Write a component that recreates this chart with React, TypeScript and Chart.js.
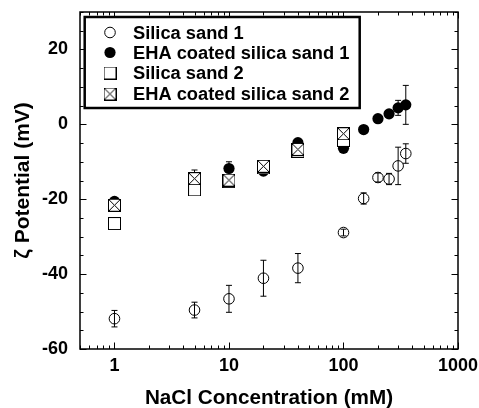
import { useEffect, useRef } from "react";
import { Chart, registerables } from "chart.js";

Chart.register(...registerables);

// NaCl concentrations (mM) and zeta potentials (mV) with error bars
const concentrations1 = [1, 5, 10, 20, 40, 100, 150, 200, 250, 300, 350];
const silicaSand1 = [-51.9, -49.6, -46.6, -41.1, -38.4, -28.9, -19.8, -14.2, -14.6, -11.1, -7.8];
const silicaSand1Err = [2.2, 2.1, 3.6, 4.8, 3.9, 0.9, 1.5, 1.2, 1.5, 5.0, 2.6];
const ehaSand1 = [-20.6, -14.8, -11.8, -12.5, -4.9, -6.4, -1.4, 1.5, 2.8, 4.4, 5.2];
const ehaSand1Err = [1.0, 1.0, 1.8, 1.0, 0.8, 0.5, 0.5, 0.5, 0.5, 2.0, 5.2];
const concentrations2 = [1, 5, 10, 20, 40, 100];
const silicaSand2 = [-26.5, -17.5, -15.3, -11.6, -7.2, -4.3];
const silicaSand2Err = [0.8, 0.8, 0.8, 0.8, 0.8, 0.8];
const ehaSand2 = [-21.6, -14.5, -14.9, -11.2, -6.7, -2.5];
const ehaSand2Err = [1.0, 2.3, 1.0, 1.0, 1.0, 0.8];

const seriesLabels = [
  "Silica sand 1",
  "EHA coated silica sand 1",
  "Silica sand 2",
  "EHA coated silica sand 2",
];
const xTickValues = [1, 10, 100, 1000];
const yTickValues = [-60, -40, -20, 0, 20];
const xMin = 0.5;
const xMax = 1000;
const yMin = -60;
const yMax = 30;

const FONT_FAMILY = "'Liberation Sans', Arial, sans-serif";
const CIRCLE_R = 5.3;

function makeSquare(crossed: boolean): HTMLCanvasElement {
  const c = document.createElement("canvas");
  c.width = 13;
  c.height = 13;
  const ctx = c.getContext("2d")!;
  ctx.fillStyle = "#fff";
  ctx.fillRect(0.5, 0.5, 12, 12);
  ctx.strokeStyle = "#000";
  ctx.lineWidth = 1;
  ctx.strokeRect(0.5, 0.5, 12, 12);
  if (crossed) {
    ctx.beginPath();
    ctx.moveTo(0.5, 0.5);
    ctx.lineTo(12.5, 12.5);
    ctx.moveTo(12.5, 0.5);
    ctx.lineTo(0.5, 12.5);
    ctx.stroke();
  }
  return c;
}

const toPoints = (xs: number[], ys: number[]) => xs.map((x, i) => ({ x, y: ys[i] }));

export default function App() {
  const canvasRef = useRef<HTMLCanvasElement | null>(null);

  useEffect(() => {
    const canvas = canvasRef.current;
    if (!canvas) return;
    const squareImg = makeSquare(false);
    const crossedImg = makeSquare(true);

    const decor = {
      id: "decor",
      beforeDatasetsDraw(chart: any) {
        const { ctx } = chart;
        const xs = chart.scales.x;
        const ys = chart.scales.y;
        ctx.save();
        ctx.strokeStyle = "#000";
        ctx.lineWidth = 1;
        chart.data.datasets.forEach((ds: any) => {
          (ds.data as { x: number; y: number }[]).forEach((p, j) => {
            const e = ds.errors[j];
            const px = xs.getPixelForValue(p.x);
            const t = ys.getPixelForValue(p.y + e);
            const b = ys.getPixelForValue(p.y - e);
            ctx.beginPath();
            ctx.moveTo(px, t);
            ctx.lineTo(px, b);
            ctx.moveTo(px - 3, t);
            ctx.lineTo(px + 3, t);
            ctx.moveTo(px - 3, b);
            ctx.lineTo(px + 3, b);
            ctx.stroke();
          });
        });
        ctx.restore();
      },
      afterDraw(chart: any) {
        const { ctx, chartArea } = chart;
        const { left, right, top, bottom } = chartArea;
        const xs = chart.scales.x;
        const ys = chart.scales.y;
        ctx.save();
        ctx.strokeStyle = "#000";

        // inward ticks on all four sides
        ctx.lineWidth = 1;
        ctx.beginPath();
        const xTicks: [number, number][] = [];
        for (const d of [0.1, 1, 10, 100]) {
          for (let k = 1; k <= 9; k++) {
            const v = k * d;
            if (v < xMin - 1e-9 || v > xMax + 1e-9) continue;
            xTicks.push([v, k === 1 ? 6.5 : 3.5]);
          }
        }
        xTicks.push([1000, 6.5]);
        for (const [v, len] of xTicks) {
          const px = Math.round(xs.getPixelForValue(v)) + 0.5;
          ctx.moveTo(px, bottom);
          ctx.lineTo(px, bottom - len);
          ctx.moveTo(px, top);
          ctx.lineTo(px, top + len);
        }
        for (let v = yMin; v <= yMax; v += 5) {
          const len = yTickValues.includes(v) ? 6.5 : 3.5;
          const py = Math.round(ys.getPixelForValue(v)) + 0.5;
          ctx.moveTo(left, py);
          ctx.lineTo(left + len, py);
          ctx.moveTo(right, py);
          ctx.lineTo(right - len, py);
        }
        ctx.stroke();

        // plot frame
        ctx.lineWidth = 1.5;
        ctx.strokeRect(left, top, right - left, bottom - top);

        // legend
        ctx.fillStyle = "#fff";
        ctx.fillRect(84.7, 17, 275, 91);
        ctx.lineWidth = 2.5;
        ctx.strokeRect(84.7, 17, 275, 91);
        const rows = [32.5, 52.5, 73, 93.5];
        const mx = 110;
        ctx.lineWidth = 1;
        ctx.fillStyle = "#000";
        ctx.beginPath();
        ctx.arc(mx, rows[0], CIRCLE_R, 0, Math.PI * 2);
        ctx.stroke();
        ctx.beginPath();
        ctx.arc(mx, rows[1], CIRCLE_R + 0.3, 0, Math.PI * 2);
        ctx.fill();
        ctx.drawImage(squareImg, mx - 6.5, Math.round(rows[2]) - 6.5);
        ctx.drawImage(crossedImg, mx - 6.5, Math.round(rows[3]) - 6.5);
        ctx.font = `bold 18.3px ${FONT_FAMILY}`;
        ctx.textBaseline = "middle";
        ctx.textAlign = "left";
        seriesLabels.forEach((label, i) => {
          ctx.fillText(label, 133, rows[i] + 1);
        });
        ctx.restore();
      },
    };

    const chart = new Chart(canvas, {
      type: "scatter",
      data: {
        datasets: [
          {
            label: seriesLabels[0],
            data: toPoints(concentrations1, silicaSand1),
            errors: silicaSand1Err,
            pointStyle: "circle",
            pointRadius: CIRCLE_R,
            borderColor: "#000",
            backgroundColor: "rgba(0,0,0,0)",
            borderWidth: 1,
            order: 4,
          },
          {
            label: seriesLabels[1],
            data: toPoints(concentrations1, ehaSand1),
            errors: ehaSand1Err,
            pointStyle: "circle",
            pointRadius: CIRCLE_R + 0.3,
            borderColor: "#000",
            backgroundColor: "#000",
            borderWidth: 0,
            order: 3,
          },
          {
            label: seriesLabels[2],
            data: toPoints(concentrations2, silicaSand2),
            errors: silicaSand2Err,
            pointStyle: squareImg,
            pointRadius: 6,
            order: 2,
          },
          {
            label: seriesLabels[3],
            data: toPoints(concentrations2, ehaSand2),
            errors: ehaSand2Err,
            pointStyle: crossedImg,
            pointRadius: 6,
            order: 1,
          },
        ] as any,
      },
      options: {
        animation: false,
        responsive: false,
        layout: { padding: { left: 0, right: 21, top: 12, bottom: 0 } },
        plugins: { legend: { display: false }, tooltip: { enabled: false } },
        scales: {
          x: {
            type: "logarithmic",
            min: xMin,
            max: xMax,
            afterBuildTicks: (scale: any) => {
              scale.ticks = xTickValues.map((value) => ({ value }));
            },
            afterFit: (scale: any) => {
              scale.height = 59;
              scale.paddingLeft = 0;
              scale.paddingRight = 0;
            },
            grid: { display: false, drawTicks: false },
            border: { display: false },
            ticks: {
              padding: 6,
              color: "#000",
              font: { family: FONT_FAMILY, size: 18, weight: "bold" },
              callback: (v: any) => String(v),
              autoSkip: false,
              maxRotation: 0,
            },
            title: {
              display: true,
              text: "NaCl Concentration (mM)",
              color: "#000",
              font: { family: FONT_FAMILY, size: 20.7, weight: "bold" },
              padding: { top: 0, bottom: -3 },
            },
          },
          y: {
            type: "linear",
            min: yMin,
            max: yMax,
            afterBuildTicks: (scale: any) => {
              scale.ticks = yTickValues.map((value) => ({ value }));
            },
            afterFit: (scale: any) => {
              scale.width = 80;
              scale.paddingTop = 0;
              scale.paddingBottom = 0;
            },
            grid: { display: false, drawTicks: false },
            border: { display: false },
            ticks: {
              padding: 12,
              color: "#000",
              font: { family: FONT_FAMILY, size: 18, weight: "bold" },
              callback: (v: any) => String(v),
            },
            title: {
              display: true,
              text: "ζ Potential (mV)",
              color: "#000",
              font: { family: FONT_FAMILY, size: 21, weight: "bold" },
              padding: { top: 11, bottom: 0 },
            },
          },
        },
      },
      plugins: [decor],
    } as any);

    return () => chart.destroy();
  }, []);

  return (
    <div style={{ position: "fixed", left: 0, top: 0, width: 479, height: 408, background: "#fff" }}>
      <canvas ref={canvasRef} width={479} height={408} />
    </div>
  );
}
